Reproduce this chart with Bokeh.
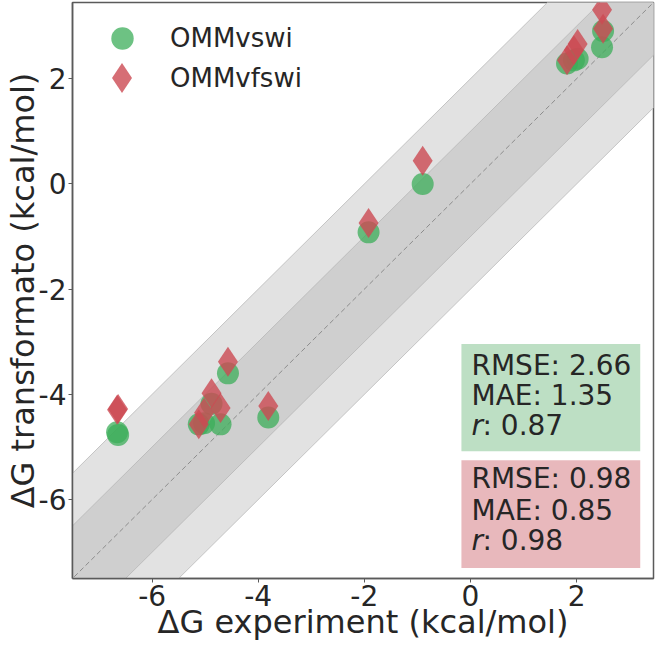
import numpy as np
from bokeh.plotting import figure
from bokeh.models import (Range1d, FixedTicker, Legend, LegendItem, BoxAnnotation,
                          Label, ColumnDataSource)
from bokeh.embed import file_html
from bokeh.resources import INLINE

# ---- data ----
dg_exp = [-6.66, -6.64, -5.12, -5.02, -4.88, -4.71, -4.57, -3.81, -1.92, -0.90,
          1.82, 1.95, 2.02, 2.48, 2.50]
dg_vswi = [-4.72, -4.77, -4.57, -4.55, -4.18, -4.57, -3.60, -4.44, -0.92, 0.00,
           2.29, 2.35, 2.38, 2.60, 2.91]
dg_vfswi = [-4.29, -4.28, -4.57, -4.35, -3.98, -4.26, -3.38, -4.22, -0.74, 0.44,
            2.35, 2.54, 2.66, 3.31, 2.95]
series_names = ["OMMvswi", "OMMvfswi"]
stats_vswi = {"RMSE": "2.66", "MAE": "1.35", "r": "0.87"}
stats_vfswi = {"RMSE": "0.98", "MAE": "0.85", "r": "0.98"}
tick_values = [-6, -4, -2, 0, 2]
axis_lo, axis_hi = -7.5, 3.45

FONT = "DejaVu Sans"
TXT = "#262626"
GREEN = "#3cae5a"
RED = "#cc4a52"
FRAME = "#5a5a5a"

p = figure(width=656, height=643, output_backend="svg", toolbar_location=None,
           x_range=Range1d(axis_lo, axis_hi), y_range=Range1d(axis_lo, axis_hi),
           min_border_left=72, min_border_right=3, min_border_top=2, min_border_bottom=60)
p.grid.visible = False
p.outline_line_color = FRAME
p.outline_line_width = 1.5
p.background_fill_color = "white"

# bands around identity
diag = np.array([axis_lo - 5, axis_hi + 5])
p.varea(x=diag, y1=diag - 2, y2=diag + 2, fill_color="#e2e2e2")
p.varea(x=diag, y1=diag - 1, y2=diag + 1, fill_color="#cfcfcf")
for off, col in [(-2, "#c4c4c4"), (2, "#c4c4c4"), (-1, "#bdbdbd"), (1, "#bdbdbd")]:
    p.line(diag, diag + off, line_color=col, line_width=1)
p.line(diag, diag, line_color="#8c8c8c", line_width=1, line_dash="5 3")

src = ColumnDataSource(dict(x=dg_exp, a=dg_vswi, b=dg_vfswi))
r1 = p.scatter("x", "a", source=src, marker="circle", size=22,
               fill_color=GREEN, fill_alpha=0.75, line_color=GREEN, line_alpha=0.0)
r2 = p.scatter("x", "b", source=src, marker="diamond", size=30,
               fill_color=RED, fill_alpha=0.8, line_color=RED, line_alpha=0.0)

leg_common = dict(location="top_left", border_line_color=None, background_fill_alpha=0,
                  padding=0, label_text_font=FONT, label_text_font_size="26px",
                  label_text_color=TXT)
p.add_layout(Legend(items=[LegendItem(label=series_names[0], renderers=[r1])],
                    glyph_width=84, glyph_height=56, margin=8, label_standoff=6,
                    **leg_common))
p.add_layout(Legend(items=[LegendItem(label=series_names[1], renderers=[r2])],
                    glyph_width=75, glyph_height=127, margin=12, label_standoff=11,
                    **leg_common))

# stats boxes
p.add_layout(BoxAnnotation(left=-0.17, right=3.2, top=-3.04, bottom=-5.08,
                           fill_color="#bddfc4", fill_alpha=1.0, line_color=None, level="overlay"))
p.add_layout(BoxAnnotation(left=-0.17, right=3.2, top=-5.25, bottom=-7.3,
                           fill_color="#e8b8bc", fill_alpha=1.0, line_color=None, level="overlay"))

def stat_lines(stats, ys):
    common = dict(x=0.02, text_font=FONT, text_font_size="28px", text_color=TXT,
                  text_baseline="middle", level="overlay")
    p.add_layout(Label(y=ys[0], text=f"RMSE: {stats['RMSE']}", **common))
    p.add_layout(Label(y=ys[1], text=f"MAE: {stats['MAE']}", **common))
    p.add_layout(Label(y=ys[2], text="r", text_font_style="italic", **common))
    p.add_layout(Label(y=ys[2], text=f": {stats['r']}", x_offset=11, **common))

stat_lines(stats_vswi, [-3.45, -4.03, -4.60])
stat_lines(stats_vfswi, [-5.60, -6.20, -6.78])

for ax in (p.xaxis[0], p.yaxis[0]):
    ax.ticker = FixedTicker(ticks=tick_values)
    ax.major_label_overrides = {t: str(t) for t in tick_values}
    ax.axis_line_color = FRAME
    ax.axis_line_width = 1.5
    ax.major_tick_line_color = FRAME
    ax.major_tick_out = 4
    ax.major_tick_in = 0
    ax.minor_tick_line_color = None
    ax.major_label_text_font = FONT
    ax.major_label_text_font_size = "28px"
    ax.major_label_text_color = TXT
    ax.axis_label_text_font = FONT
    ax.axis_label_text_font_size = "32px"
    ax.axis_label_text_font_style = "normal"
    ax.axis_label_text_color = TXT
    ax.major_label_standoff = 2
    ax.axis_label_standoff = -6

p.xaxis.axis_label = "ΔG experiment (kcal/mol)"
p.yaxis.axis_label = "ΔG transformato (kcal/mol)"

open("out.html", "w").write(file_html(p, INLINE))
